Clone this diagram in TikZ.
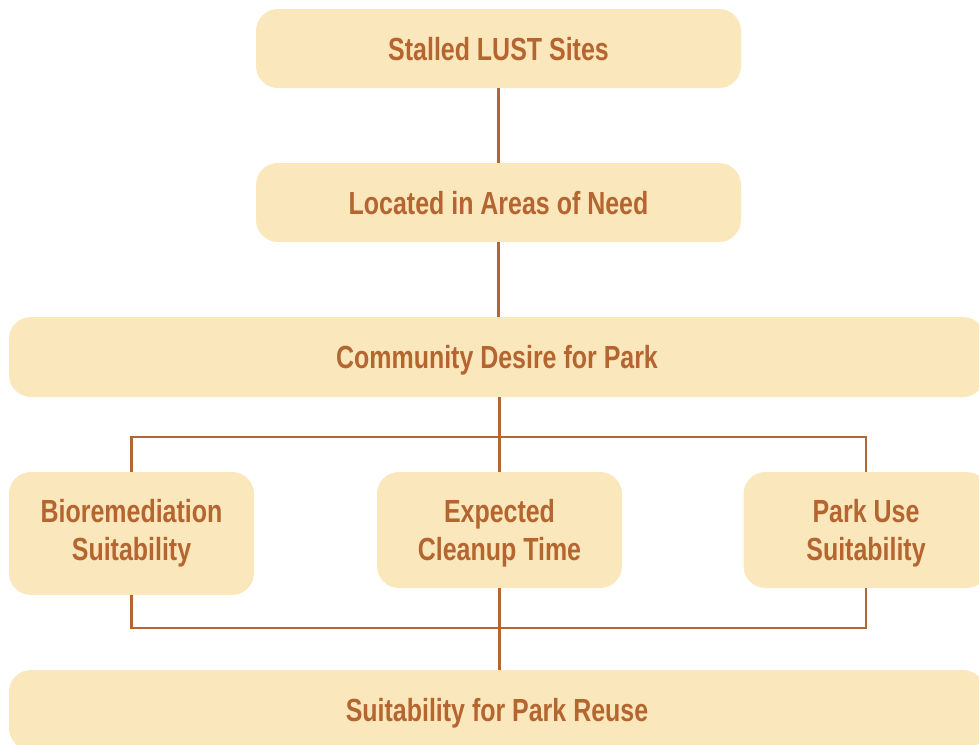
\documentclass[tikz,border=0pt]{standalone}
\usepackage{fontspec}
\setmainfont{Liberation Sans}[FakeStretch=0.78]
\usepackage{tikz}
\usetikzlibrary{calc}

\definecolor{boxfill}{HTML}{FBE7BC}
\definecolor{rust}{HTML}{B5652F}

\begin{document}
\begin{tikzpicture}[
  x=1pt, y=-1pt,
  font=\fontsize{32}{38}\selectfont\bfseries,
  step box/.style={fill=boxfill, text=rust, rounded corners=22pt, align=center, inner sep=0pt, text depth=0pt},
  link/.style={draw=rust, line width=2.6pt}
]
\useasboundingbox (0,0) rectangle (979,744);

% chain of screening steps
\node[step box, minimum width=485, minimum height=79] (lust) at (498.5,48.5) {Stalled LUST Sites};
\node[step box, minimum width=485, minimum height=79] (need) at (498.5,202.5) {Located in Areas of Need};
\node[step box, minimum width=976, minimum height=80] (desire) at (497,357) {Community Desire for Park};

% three criteria side by side
\node[step box, minimum width=245, minimum height=123, text depth=7pt] (bio) at (131.5,533.5) {Bioremediation\\Suitability};
\node[step box, minimum width=245, minimum height=116] (cleanup) at (499.5,530) {Expected\\Cleanup Time};
\node[step box, minimum width=245, minimum height=116] (parkuse) at (866,530) {Park Use\\Suitability};

\node[step box, minimum width=976, minimum height=80] (reuse) at (497,710) {Suitability for Park Reuse};

\coordinate (split) at (499,437);
\coordinate (join) at (499,628);

\draw[link] (lust.south -| need.north) -- (need.north);
\draw[link] (need.south) -- (need.south |- desire.north);
\draw[link] (cleanup.north |- desire.south) -- (cleanup.north);
\draw[link] (bio.north) |- (split) -| (parkuse.north);
\draw[link] (bio.south) |- (join) -| (parkuse.south);
\draw[link] (cleanup.south) -- (cleanup.south |- reuse.north);
\end{tikzpicture}
\end{document}
